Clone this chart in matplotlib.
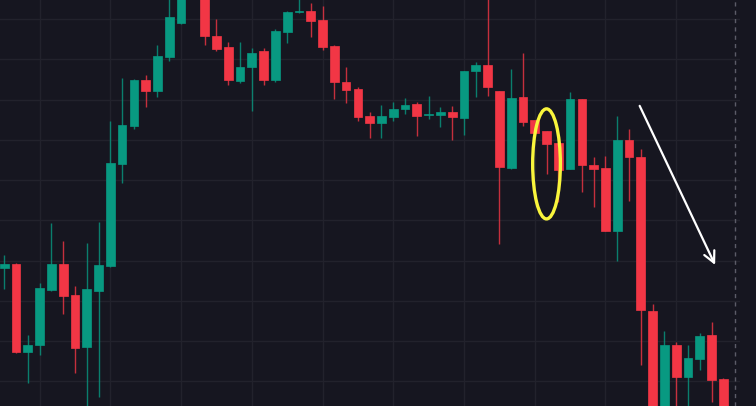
import matplotlib.pyplot as plt
from matplotlib.patches import Ellipse
import numpy as np

# candle data (arbitrary price units), one entry per bar
opens = [137.7, 142.3, 54.3, 61.0, 116.3, 142.3, 110.7, 59.0, 115.0, 139.7,
         242.0, 280.0, 326.0, 314.7, 348.7, 383.0, 420.0, 425.0, 370.3, 358.7,
         325.3, 338.7, 355.3, 325.7, 374.0, 393.5, 394.7, 385.7, 360.0, 324.0,
         317.3, 290.3, 283.3, 289.3, 296.7, 302.0, 290.5, 290.7, 294.3, 288.3,
         335.0, 341.0, 315.3, 237.7, 309.0, 285.7, 274.7, 262.7, 236.7, 307.0,
         241.3, 238.3, 175.3, 266.0, 248.7, 95.3, -15.0, 60.7, 28.7, 47.3,
         71.3, 27.0]
highs = [151.0, 142.7, 71.0, 123.0, 183.3, 165.3, 120.0, 163.0, 184.3, 285.0,
         328.0, 327.0, 330.7, 361.0, 412.0, 430.0, 448.0, 432.0, 387.0, 364.3,
         363.7, 357.7, 357.7, 376.7, 395.0, 410.0, 403.0, 400.3, 361.0, 339.0,
         319.0, 294.0, 300.7, 303.7, 307.7, 303.7, 310.3, 298.7, 300.0, 334.7,
         343.7, 410.0, 315.3, 337.0, 353.3, 286.0, 274.7, 263.0, 314.0, 307.0,
         249.0, 250.3, 290.0, 277.0, 257.0, 102.3, 74.7, 64.0, 61.0, 72.7,
         84.3, 28.3]
lows = [117.0, 52.7, 22.7, 50.7, 115.3, 92.3, 32.7, -10.0, 8.7, 139.3,
        222.7, 276.7, 298.7, 309.0, 345.3, 382.0, 414.0, 361.0, 355.3, 321.3,
        323.3, 295.3, 321.3, 324.3, 363.3, 393.3, 369.3, 356.0, 307.0, 303.3,
        285.0, 267.7, 268.3, 285.3, 291.7, 270.3, 287.0, 279.3, 266.3, 271.0,
        309.0, 310.0, 162.3, 236.7, 280.0, 272.0, 231.7, 204.0, 236.7, 214.3,
        199.3, 174.7, 145.0, 204.7, 41.0, -30.0, -25.0, -10.0, -10.0, 36.0,
        4.3, -25.0]
closes = [142.3, 54.3, 61.0, 118.0, 142.3, 110.3, 57.7, 117.0, 141.0, 242.7,
          280.7, 326.3, 315.0, 349.7, 388.7, 420.0, 440.0, 370.3, 357.3, 325.7,
          339.3, 353.0, 325.7, 374.7, 394.0, 394.0, 385.3, 358.7, 324.3, 316.3,
          289.0, 283.3, 289.7, 297.0, 301.3, 290.3, 290.8, 294.0, 288.7, 334.7,
          341.0, 319.0, 238.7, 307.7, 284.3, 272.7, 261.7, 236.0, 307.0, 241.0,
          237.3, 175.3, 265.7, 248.7, 95.7, -20.0, 60.7, 28.7, 47.7, 70.3,
          26.0, -15.0]

# hand-drawn marks on the chart
circle_center = (46.0, 242.0)
circle_size = (2.35, 110.0)
arrow_start = (53.9, 300.0)
arrow_end = (60.3, 141.0)
last_bar = 62

bg = '#161620'
up = '#089981'
down = '#f23645'

fig = plt.figure(figsize=(7.56, 4.062), dpi=100, facecolor=bg)
ax = fig.add_axes([0, 0, 740 / 756, 1])
ax.set_facecolor(bg)

x = np.arange(len(opens))
o = np.array(opens)
c = np.array(closes)
colors = [up if cc >= oo else down for oo, cc in zip(o, c)]

ax.vlines(x, lows, highs, colors=colors, linewidth=1.0, alpha=0.8, zorder=2)
body = np.maximum(np.abs(c - o), 1.2)
ax.bar(x, body, bottom=np.minimum(o, c), width=0.74, color=colors,
       edgecolor=colors, linewidth=0.5, zorder=3)

ax.axvline(last_bar, color='#5c5c68', linewidth=1.0, linestyle=(0, (3, 3)), zorder=1)

ax.add_patch(Ellipse(circle_center, circle_size[0], circle_size[1], fill=False,
                     edgecolor='#f9f53c', linewidth=2.4, zorder=5))
ax.annotate('', xy=arrow_end, xytext=arrow_start,
            arrowprops=dict(arrowstyle='->,head_length=0.8,head_width=0.4',
                            color='white', linewidth=1.6, shrinkA=0, shrinkB=0),
            zorder=5)

ax.set_xlim(-0.356, 62.41)
ax.set_ylim(0, 406)
ax.set_xticks(np.arange(3, 63, 6))
ax.set_yticks(24.5 + 40.25 * np.arange(10))
ax.grid(True, color='#22222c', linewidth=1.0)
ax.set_axisbelow(True)
ax.tick_params(length=0, labelbottom=False, labelleft=False)
for s in ax.spines.values():
    s.set_visible(False)

fig.savefig('out.png', dpi=100, facecolor=bg)
